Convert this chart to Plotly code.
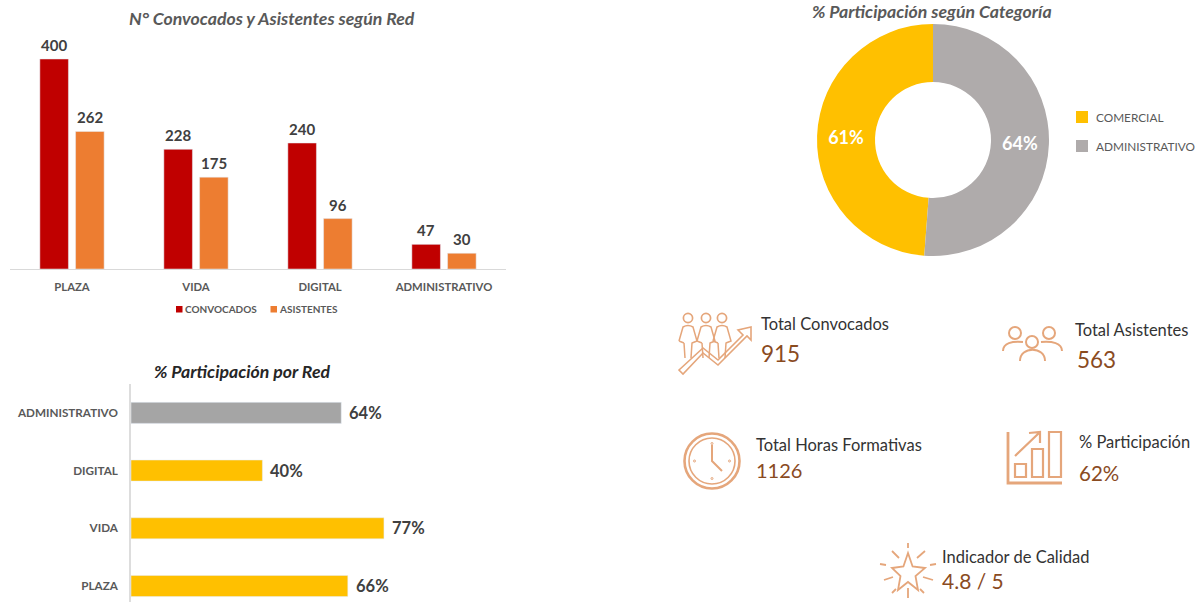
import plotly.graph_objects as go

W, H = 1200, 602
FONT = "Lato"

redes = ["PLAZA", "VIDA", "DIGITAL", "ADMINISTRATIVO"]
convocados = [400, 228, 240, 47]
asistentes = [262, 175, 96, 30]

part_redes = ["PLAZA", "VIDA", "DIGITAL", "ADMINISTRATIVO"]
part_valores = [0.66, 0.77, 0.40, 0.64]
part_texto = ["66%", "77%", "40%", "64%"]
part_colores = ["#FFC000", "#FFC000", "#FFC000", "#A5A5A5"]

categorias = ["COMERCIAL", "ADMINISTRATIVO"]
cat_valores = [61, 64]
cat_texto = ["61%", "64%"]
cat_colores = ["#FFC000", "#AFABAB"]

COL_CONV, COL_ASIS = "#C00000", "#ED7D31"

kpis = [
    ("Total Convocados", 759, 324, 16.5, "915", 759, 353, 22.5),
    ("Total Asistentes", 1073, 330, 16.5, "563", 1075, 359, 22.5),
    ("Total Horas Formativas", 754, 445, 16.5, "1126", 754, 470, 20),
    ("% Participación", 1077, 442, 16.5, "62%", 1077, 473, 20.5),
    ("Indicador de Calidad", 940, 557, 16.5, "4.8 / 5", 940, 580, 21),
]


def dx(a, b):
    return [a / W, b / W]


def dy(top, bottom):
    return [1 - bottom / H, 1 - top / H]


fig = go.Figure()
fig.add_bar(x=redes, y=convocados, name="CONVOCADOS", marker_color=COL_CONV, xaxis="x", yaxis="y")
fig.add_bar(x=redes, y=asistentes, name="ASISTENTES", marker_color=COL_ASIS, xaxis="x", yaxis="y")

fig.add_bar(x=part_valores, y=part_redes, orientation="h", marker_color=part_colores,
            xaxis="x2", yaxis="y2", width=0.365)

fig.add_pie(labels=categorias, values=cat_valores, text=cat_texto, textinfo="text",
            marker=dict(colors=cat_colores), hole=0.5, sort=False, direction="clockwise",
            rotation=360 * cat_valores[1] / sum(cat_valores),
            domain=dict(x=dx(817, 1049), y=dy(24, 256)),
            textposition="inside", insidetextorientation="horizontal",
            textfont=dict(family=FONT, size=18, color="white", weight="bold"))

fig.add_scatter(x=[0, W], y=[0, H], mode="markers", marker=dict(opacity=0), xaxis="x3", yaxis="y3",
                hoverinfo="skip")

ICON = "#E5A67B"
shapes = []


def path(d, width=1.6, color=ICON):
    shapes.append(dict(type="path", path=d, xref="x3", yref="y3",
                       line=dict(color=color, width=width), fillcolor="rgba(0,0,0,0)"))


def circle(cx, cy, r, width=1.6, color=ICON):
    shapes.append(dict(type="circle", x0=cx - r, x1=cx + r, y0=cy - r, y1=cy + r, xref="x3", yref="y3",
                       line=dict(color=color, width=width)))


def swatch(x0, y0, size, color):
    shapes.append(dict(type="rect", x0=x0, x1=x0 + size, y0=y0, y1=y0 + size, xref="x3", yref="y3",
                       fillcolor=color, line=dict(width=0)))


# Personas con flecha
for cx in (688, 706, 722):
    circle(cx, 318, 4.6, 1.7)
    path(f"M{cx-9},341 L{cx-5},327 Q{cx},324 {cx+5},327 L{cx+9},341 L{cx+4},343 L{cx+3},358 "
         f"M{cx-4},343 L{cx-3},358 M{cx-9},341 L{cx-4},343 M{cx+4},343 L{cx+9},341", 1.5)
path("M679,370 L703,348 L718,360 L743,335 L738,330 L751,327 L751,340 L747,336 L718,365 L703,353 L683,374 Z", 1.6)

# Personas (asistentes)
circle(1015, 333, 6, 2)
circle(1049, 333, 6, 2)
circle(1032, 342, 6, 2)
path("M1003,351 C1003,343 1012,341 1023,342", 2)
path("M1041,342 C1052,341 1062,343 1062,351", 2)
path("M1020,361 C1020,346 1045,346 1045,361", 2)

# Reloj
circle(712, 461, 27.5, 2.6)
circle(712, 461, 23, 1.6)
path("M712,445 L712,461 L722,471", 2)
for px, py in ((712, 443.5), (729.5, 461), (712, 478.5), (694.5, 461)):
    circle(px, py, 1, 1)

# Barras con flecha
path("M1008,432 L1008,483 L1062,483", 2.8)
path("M1015,464 H1026 V477 H1015 Z", 2.2)
path("M1032,449 H1043 V477 H1032 Z", 2.2)
path("M1049,432 H1061 V477 H1049 Z", 2.2)
path("M1015,456 L1039,433 M1029,433 L1040,432 L1040,443", 2.2)

# Estrella
path("M908,553 L912.6,566.5 L925,568 L915.5,576 L918,590 L908,582 L898,590 L900.5,576 L892,568 L903.4,566.5 Z", 1.8)
for d in ("M908,543 V548", "M917,558 L925,551", "M930,565 L936,564", "M923,577 L933,580",
          "M920,589 L924,593", "M908,588 V598", "M896,589 L892,593", "M893,577 L884,580",
          "M886,565 L880,564", "M899,558 L892,551"):
    path(d, 1.8)

ann = []


def text(t, x, y, size, color, anchor="left", **font):
    ann.append(dict(text=t, x=x, y=y, xref="x3", yref="y3", xanchor=anchor, yanchor="middle",
                    showarrow=False, font=dict(family=FONT, size=size, color=color, **font)))


TITLE = dict(style="italic", weight="bold")
text("N° Convocados y Asistentes según Red", 272, 18, 17.7, "#595959", "center", **TITLE)
text("% Participación según Categoría", 932, 11, 17.7, "#595959", "center", **TITLE)
text("% Participación por Red", 242, 371, 17.7, "#262626", "center", **TITLE)
for lab, lx, ly, ls, val, vx, vy, vs in kpis:
    text(lab, lx, ly, ls, "#333333", "left")
    text(val, vx, vy, vs, "#8A4B1F", "left")

# Etiquetas de datos
LABEL = dict(family=FONT, color="#404040", weight="bold")
for serie, shift in ((convocados, -18), (asistentes, 18)):
    for cat, val in zip(redes, serie):
        ann.append(dict(text=str(val), x=cat, y=val, xref="x", yref="y", xanchor="center", yanchor="bottom",
                        xshift=shift, yshift=3, showarrow=False, font=dict(size=15, **LABEL)))
for cat, val, txt in zip(part_redes, part_valores, part_texto):
    ann.append(dict(text=txt, x=val, y=cat, xref="x2", yref="y2", xanchor="left", yanchor="middle",
                    xshift=6, yshift=0, showarrow=False, font=dict(size=16.5, **LABEL)))

# Leyendas
swatch(176, 306, 6.5, COL_CONV)
swatch(270.5, 306, 6.5, COL_ASIS)
text("CONVOCADOS", 183, 309, 10, "#595959", weight="bold")
text("ASISTENTES", 277, 309, 10, "#595959", weight="bold")
swatch(1076, 111, 12, cat_colores[0])
swatch(1076, 140, 12, cat_colores[1])
text(categorias[0], 1094, 117.5, 11.8, "#595959")
text(categorias[1], 1094, 146, 11.8, "#595959")

tick = dict(family=FONT, size=11.3, color="#595959", weight="bold")
fig.update_layout(
    width=W, height=H, margin=dict(l=0, r=0, t=0, b=0), paper_bgcolor="white", plot_bgcolor="rgba(0,0,0,0)",
    font=dict(family=FONT), barmode="group", bargap=0.424, bargroupgap=0.2, showlegend=False,
    xaxis=dict(domain=dx(10, 506), showgrid=False, zeroline=False, showline=False, tickfont=tick,
               ticks="", anchor="y", tickangle=0, ticklabelstandoff=10),
    yaxis=dict(domain=dy(24, 269), range=[0, 245 / 210 * 400], visible=False, anchor="x", showgrid=False),
    xaxis2=dict(domain=dx(131, 500), range=[0, 369 / 328.5], visible=False, anchor="y2", showgrid=False),
    yaxis2=dict(domain=dy(384, 602), range=[-0.277, 3.5], showgrid=False, zeroline=False,
                tickfont=dict(tick, size=11.7),
                showline=True, linecolor="#DDDDDD", linewidth=1.5, ticks="", ticklabelstandoff=9, anchor="x2"),
    xaxis3=dict(domain=[0, 1], range=[0, W], visible=False, anchor="y3", fixedrange=True),
    yaxis3=dict(domain=[0, 1], range=[H, 0], visible=False, anchor="x3", fixedrange=True),
    shapes=shapes + [dict(type="line", xref="x3", yref="y3", x0=10, x1=506, y0=269.5, y1=269.5,
                          line=dict(color="#D9D9D9", width=1.2))],
    annotations=ann,
)

fig.write_html("out.html", config=dict(displayModeBar=False),
               post_script="document.body.style.margin='0';document.body.style.overflow='hidden';")
